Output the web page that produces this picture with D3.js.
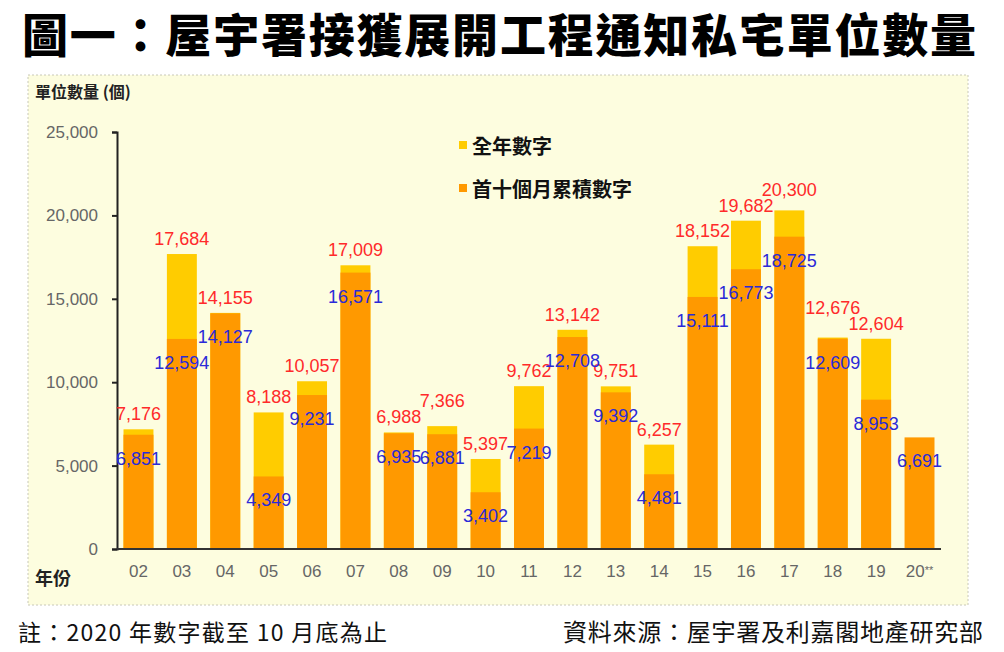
<!DOCTYPE html>
<html>
<head>
<meta charset="utf-8">
<script src="https://cdn.jsdelivr.net/npm/d3@7"></script>
<style>
  body { margin: 0; background: #fff; }
  svg { display: block; font-family: "Noto Sans CJK TC", "Noto Sans", sans-serif; }
</style>
</head>
<body>
<svg id="chart" width="1004" height="652"></svg>
<script>
// 年份 (x 軸)
var years = ["02", "03", "04", "05", "06", "07", "08", "09", "10", "11",
             "12", "13", "14", "15", "16", "17", "18", "19", "20"];
// 全年數字 (2020 未有全年數字)
var fullYear = [7176, 17684, 14155, 8188, 10057, 17009, 6988, 7366, 5397, 9762,
                13142, 9751, 6257, 18152, 19682, 20300, 12676, 12604, null];
// 首十個月累積數字
var firstTen = [6851, 12594, 14127, 4349, 9231, 16571, 6935, 6881, 3402, 7219,
                12708, 9392, 4481, 15111, 16773, 18725, 12609, 8953, 6691];
var yTicks = [0, 5000, 10000, 15000, 20000, 25000];
var seriesNames = ["全年數字", "首十個月累積數字"];

var data = years.map(function(y, i) {
    return { year: y, full: fullYear[i], ten: firstTen[i] };
});

var svg = d3.select("#chart");
var fmt = d3.format(",");
var numFont = "Arial, 'Liberation Sans', sans-serif";

// 標題
svg.append("text")
    .attr("x", 22)
    .attr("y", 52)
    .attr("font-size", 46)
    .attr("font-weight", 900)
    .attr("fill", "#000")
    .attr("textLength", 954)
    .text("圖一：屋宇署接獲展開工程通知私宅單位數量");

// 圖框
svg.append("rect")
    .attr("x", 28).attr("y", 75)
    .attr("width", 940).attr("height", 530)
    .attr("fill", "#fdfddf")
    .attr("stroke", "#c8c8b8")
    .attr("stroke-dasharray", "2,2");

var xScale = d3.scaleBand().domain(years).range([117, 941]).paddingInner(0.31).paddingOuter(0.15),
    yScale = d3.scaleLinear().domain([0, 25000]).range([549, 132]);

// 棒
var bars = svg.append("g");
bars.selectAll(".full")
    .data(data.filter(function(d) { return d.full != null; }))
    .enter().append("rect")
    .attr("x", function(d) { return xScale(d.year); })
    .attr("y", function(d) { return yScale(d.full); })
    .attr("width", xScale.bandwidth())
    .attr("height", function(d) { return yScale(0) - yScale(d.full); })
    .attr("fill", "#ffcc00");

bars.selectAll(".ten")
    .data(data)
    .enter().append("rect")
    .attr("x", function(d) { return xScale(d.year); })
    .attr("y", function(d) { return yScale(d.ten); })
    .attr("width", xScale.bandwidth())
    .attr("height", function(d) { return yScale(0) - yScale(d.ten); })
    .attr("fill", "#ff9900");

// y 軸
var yAxis = svg.append("g")
    .attr("transform", "translate(117,0)")
    .call(d3.axisLeft(yScale).tickValues(yTicks).tickSize(5).tickPadding(14)
        .tickFormat(function(d) { return fmt(d); }));
yAxis.select(".domain").attr("stroke", "#222").attr("stroke-width", 2);
yAxis.selectAll(".tick line").attr("stroke", "#222").attr("stroke-width", 2);
yAxis.selectAll(".tick text")
    .attr("font-family", numFont)
    .attr("font-size", 17).attr("fill", "#666");

// x 軸
var xAxis = svg.append("g")
    .attr("transform", "translate(0,549)")
    .call(d3.axisBottom(xScale).tickSize(0).tickPadding(16));
xAxis.select(".domain").attr("stroke", "#333").attr("stroke-width", 2)
    .attr("d", "M117,0H941");
xAxis.selectAll(".tick text")
    .attr("font-family", numFont)
    .attr("font-size", 17).attr("fill", "#666")
    .text(function(d) { return d; });
xAxis.selectAll(".tick").filter(function(d) { return d === "20"; })
    .select("text")
    .append("tspan").attr("font-size", 11).attr("dy", -3).text("**");

// 數據標籤
var labels = svg.append("g")
    .attr("font-family", numFont)
    .attr("font-size", 18)
    .attr("text-anchor", "middle");

var redLabels = labels.selectAll(".redlab")
    .data(data.filter(function(d) { return d.full != null; }))
    .enter().append("text")
    .attr("x", function(d) { return xScale(d.year) + xScale.bandwidth() / 2; })
    .attr("y", function(d) { return yScale(d.full) - 9; })
    .attr("fill", "#ff2a2a")
    .text(function(d) { return fmt(d.full); });

// 相鄰紅色標籤重疊時，把數值較大的一個推高
var redNodes = redLabels.nodes();
for (var i = 1; i < redNodes.length; i++) {
    var a = redNodes[i - 1], b = redNodes[i];
    var ba = a.getBBox(), bb = b.getBBox();
    if (ba.x + ba.width > bb.x && Math.abs(ba.y - bb.y) < ba.height * 0.8) {
        var hi = d3.select(a).datum().full > d3.select(b).datum().full ? a : b;
        var lo = hi === a ? b : a;
        d3.select(hi).attr("y", +d3.select(lo).attr("y") - ba.height * 0.8);
    }
}

labels.selectAll(".bluelab")
    .data(data)
    .enter().append("text")
    .attr("x", function(d) { return xScale(d.year) + xScale.bandwidth() / 2; })
    .attr("y", function(d) { return yScale(d.ten) + 30; })
    .attr("fill", "#2a2ad8")
    .text(function(d) { return fmt(d.ten); });

// 軸標題
svg.append("text")
    .attr("x", 35).attr("y", 98)
    .attr("font-size", 16).attr("font-weight", 700).attr("fill", "#222")
    .text("單位數量 (個)");
svg.append("text")
    .attr("x", 35).attr("y", 585)
    .attr("font-size", 18).attr("font-weight", 700).attr("fill", "#222")
    .text("年份");

// 圖例
var legendColors = ["#ffcc00", "#ff9900"];
var legend = svg.append("g");
seriesNames.forEach(function(name, i) {
    var ly = 145 + i * 43;
    legend.append("rect")
        .attr("x", 459).attr("y", ly - 4)
        .attr("width", 8).attr("height", 8)
        .attr("fill", legendColors[i]);
    legend.append("text")
        .attr("x", 472).attr("y", ly + 9)
        .attr("font-size", 20).attr("font-weight", 700).attr("fill", "#111")
        .text(name);
});

// 註及資料來源
svg.append("text")
    .attr("x", 18).attr("y", 641)
    .attr("font-size", 23).attr("fill", "#111")
    .attr("textLength", 369)
    .text("註：2020 年數字截至 10 月底為止");
svg.append("text")
    .attr("x", 563).attr("y", 641)
    .attr("font-size", 24).attr("fill", "#111")
    .attr("textLength", 420)
    .text("資料來源：屋宇署及利嘉閣地產研究部");
</script>
</body>
</html>
